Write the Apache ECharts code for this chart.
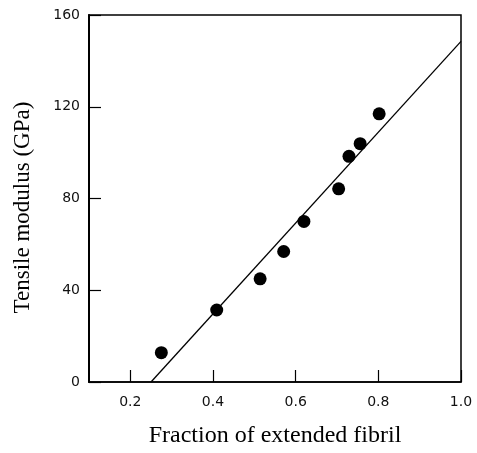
<!DOCTYPE html>
<html>
<head>
<meta charset="utf-8">
<script src="https://cdn.jsdelivr.net/npm/echarts@6/dist/echarts.min.js"></script>
<style>html,body{margin:0;padding:0;background:#fff;}#c{width:477px;height:453px;}</style>
</head>
<body>
<div id="c"></div>
<script>
var fraction = [0.275, 0.409, 0.514, 0.571, 0.620, 0.704, 0.729, 0.756, 0.802];
var modulus  = [12.8, 31.4, 45.0, 56.9, 70.0, 84.2, 98.4, 103.9, 116.9];
var fitX = [0.25, 1.0];
var fitY = [0, 148.5];
var xTicks = [0.2, 0.4, 0.6, 0.8, 1.0];
var yTicks = [0, 40, 80, 120, 160];

var chart = echarts.init(document.getElementById('c'), null, {renderer: 'canvas'});
var tickFont = {fontFamily: 'DejaVu Sans', fontSize: 14, color: '#111'};
chart.setOption({
  animation: false,
  backgroundColor: '#fff',
  grid: {left: 89, right: 16, top: 15, bottom: 68, show: true, borderColor: '#000', borderWidth: 1.5, backgroundColor: 'transparent'},
  xAxis: {
    type: 'value', min: 0.1, max: 1.0,
    name: 'Fraction of extended fibril', nameLocation: 'middle', nameGap: 42,
    nameTextStyle: {fontFamily: 'Liberation Serif', fontSize: 24, color: '#000'},
    axisLine: {show: true, onZero: false, lineStyle: {color: '#000', width: 1.5}},
    axisTick: {show: true, inside: true, length: 12, customValues: xTicks, lineStyle: {color: '#000', width: 1.2}},
    axisLabel: Object.assign({customValues: xTicks, margin: 13, formatter: function (v) { return v.toFixed(1); }}, tickFont),
    splitLine: {show: false}
  },
  yAxis: {
    type: 'value', min: 0, max: 160, interval: 40,
    name: 'Tensile modulus (GPa)', nameLocation: 'middle', nameGap: 55, nameRotate: 90,
    nameTextStyle: {fontFamily: 'Liberation Serif', fontSize: 23, color: '#000', padding: [0, 18, 0, 0]},
    axisLine: {show: true, onZero: false, lineStyle: {color: '#000', width: 2}},
    axisTick: {show: true, inside: true, length: 12, lineStyle: {color: '#000', width: 1.2}},
    axisLabel: Object.assign({margin: 9, formatter: function (v) { return String(v); }}, tickFont),
    splitLine: {show: false}
  },
  series: [
    {
      type: 'line',
      data: fitX.map(function (x, i) { return [x, fitY[i]]; }),
      showSymbol: false, symbol: 'none',
      lineStyle: {color: '#000', width: 1.3},
      z: 2
    },
    {
      type: 'scatter',
      data: fraction.map(function (x, i) { return [x, modulus[i]]; }),
      symbol: 'circle', symbolSize: 13,
      itemStyle: {color: '#000', opacity: 1},
      z: 3
    }
  ]
});
</script>
</body>
</html>
